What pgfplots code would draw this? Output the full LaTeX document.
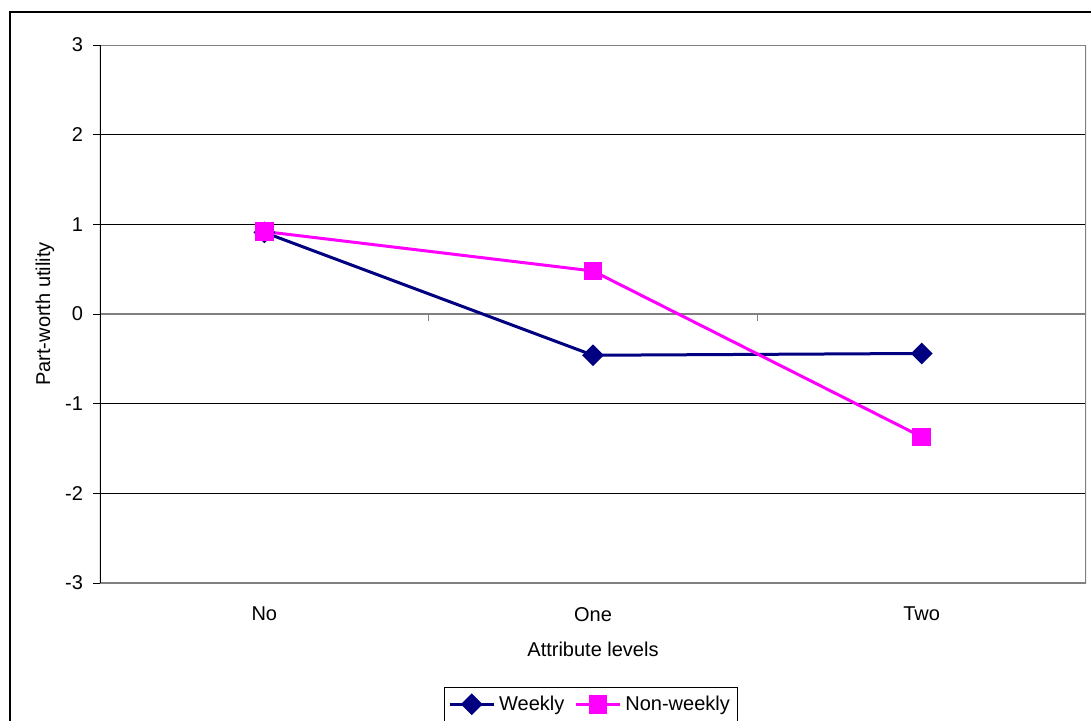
\documentclass[border=0pt]{standalone}
\usepackage{fontspec}
\setmainfont{Liberation Sans}
\usepackage{pgfplots}
\pgfplotsset{compat=1.18}
\definecolor{navyc}{HTML}{000080}
\definecolor{magc}{HTML}{FF00FF}
\definecolor{grayc}{HTML}{808080}
\begin{document}
\fontsize{10pt}{12pt}\selectfont
\begin{tikzpicture}
\useasboundingbox (0,0) rectangle (545.5pt,360pt);
\draw[line width=0.8pt] (5pt,-20pt) -- (5pt,354pt) -- (570pt,354pt);
\begin{axis}[
  at={(50pt,68.5pt)}, anchor=south west,
  width=493pt, height=269pt, scale only axis,
  xmin=-0.5, xmax=2.5, ymin=-3, ymax=3,
  xtick={0,1,2}, xticklabels={No,One,Two},
  x tick style={draw=none},
  xticklabel style={yshift=-5pt},
  ytick={-3,-2,-1,0,1,2,3},
  yticklabels={-3,-2,-1,0,1,2,3},
  ytick pos=left,
  yticklabel style={xshift=-1.5pt},
  y tick style={black, line width=0.5pt},
  tick align=outside, major tick length=3.5pt,
  ymajorgrids, grid style={black, line width=0.5pt},
  axis line style={draw=none},
  xlabel={Attribute levels}, ylabel={Part-worth utility},
  xlabel style={at={(axis description cs:0.5,-0.1227)}, anchor=center},
  ylabel style={at={(axis description cs:-0.0558,0.5)}, anchor=center},
  tick label style={font=\fontsize{10pt}{12pt}\selectfont},
  label style={font=\fontsize{10pt}{12pt}\selectfont},
  legend columns=2,
  legend style={at={(axis description cs:0.498,0)}, anchor=north, yshift=-52pt,
    draw=black, line width=0.5pt, font=\fontsize{10pt}{12pt}\selectfont,
    inner xsep=2pt, inner ysep=2pt,
    /tikz/every even column/.append style={column sep=3pt}},
  legend image code/.code={
    \draw[#1, mark=none] (0pt,0pt) -- (22pt,0pt);
    \draw[#1] plot coordinates {(11pt,0pt)};
  },
]
\draw[grayc, line width=0.8pt] (rel axis cs:0,1) -- (rel axis cs:1,1) -- (rel axis cs:1,0) -- (rel axis cs:0,0);
\draw[grayc, line width=0.8pt] (axis cs:-0.5,0) -- (axis cs:2.5,0);
\draw[grayc, line width=0.5pt] (axis cs:0.5,0) -- ([yshift=-3.5pt]axis cs:0.5,0);
\draw[grayc, line width=0.5pt] (axis cs:1.5,0) -- ([yshift=-3.5pt]axis cs:1.5,0);
\draw[black, line width=0.6pt] (rel axis cs:0,0) -- (rel axis cs:0,1);
\addplot[navyc, line width=1.5pt, mark=square*, mark size=3.1pt, mark options={rotate=45, solid}]
  coordinates {(0,0.91) (1,-0.46) (2,-0.44)};
\addlegendentry{Weekly}
\addplot[magc, line width=1.5pt, mark=square*, mark size=3.9pt, mark options={solid}]
  coordinates {(0,0.92) (1,0.48) (2,-1.37)};
\addlegendentry{Non-weekly}
\end{axis}
\end{tikzpicture}
\end{document}
